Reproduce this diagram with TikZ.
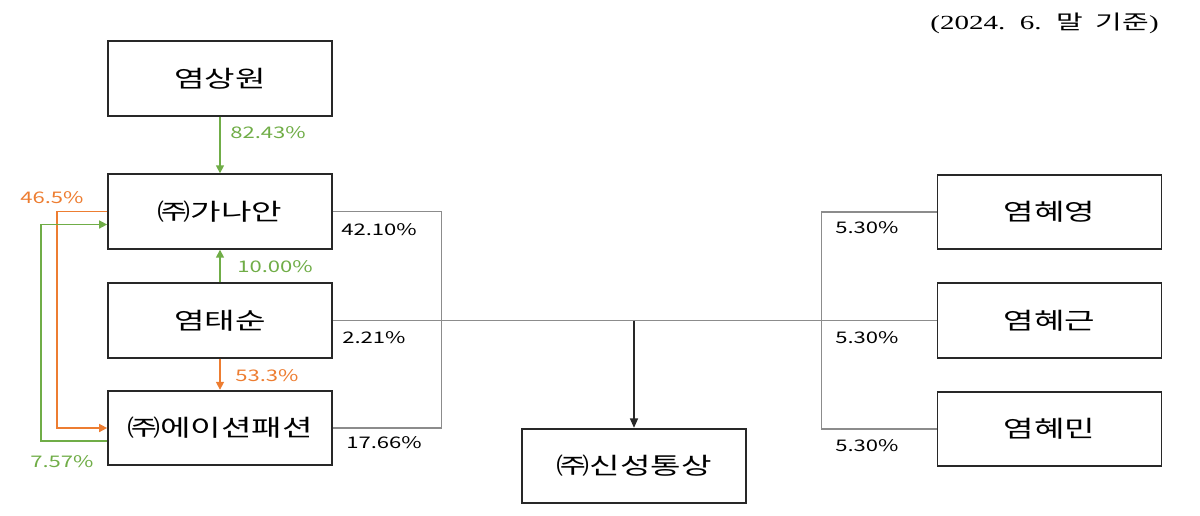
\documentclass[tikz,border=0pt]{standalone}
\usepackage{fontspec}
\usepackage{graphicx}
\setmainfont{Noto Sans CJK KR}
\newfontfamily\datefont{Liberation Serif}
\usetikzlibrary{arrows.meta,calc}
\definecolor{stakegreen}{RGB}{112,173,71}
\definecolor{stakeorange}{RGB}{237,125,49}
\definecolor{linkgray}{RGB}{140,140,140}
\definecolor{boxline}{RGB}{40,40,40}
\newcommand{\boxtxt}[1]{\scalebox{1.42}[1]{#1}}
\newcommand{\pcttxt}[1]{\scalebox{1.38}[1]{#1}}
\begin{document}
\begin{tikzpicture}[x=0.75pt, y=-0.75pt,
        entity/.style={draw=boxline, line width=1.3pt, minimum width=168pt, minimum height=56pt, inner sep=0pt, font=\fontsize{17.5}{20}\selectfont},
        pct/.style={anchor=west, inner sep=0pt, font=\fontsize{12}{14}\selectfont},
        holdg/.style={stakegreen, line width=1.2pt, -{Triangle[length=6pt, width=6pt]}},
        holdo/.style={stakeorange, line width=1.2pt, -{Triangle[length=6pt, width=6pt]}},
        link/.style={linkgray, line width=0.9pt}]
        \useasboundingbox (0, 0) rectangle (1200, 515);
        % boxes
        \node[entity] (sangwon) at (220, 78.5) {\boxtxt{염상원}};
        \node[entity] (ganaan) at (220, 211.5) {\boxtxt{㈜가나안}};
        \node[entity] (taesun) at (220, 320.5) {\boxtxt{염태순}};
        \node[entity] (fashion) at (220, 428) {\boxtxt{㈜에이션패션}};
        \node[entity] (sinsung) at (634, 466) {\boxtxt{㈜신성통상}};
        \node[entity] (hyeyoung) at (1049.5, 212) {\boxtxt{염혜영}};
        \node[entity] (hyegeun) at (1049.5, 320.5) {\boxtxt{염혜근}};
        \node[entity] (hyemin) at (1049.5, 429) {\boxtxt{염혜민}};
        \node[anchor=east, inner sep=0pt, font=\fontsize{15}{18}\selectfont] (basedate) at (1159, 23)
            {\scalebox{1.45}[1]{\datefont(2024.\ \ 6.\ \ \rmfamily 말\ \ 기준\datefont)}};
        % gray links to 신성통상
        \draw[link] (ganaan.east) -- ++(109, 0) |- (fashion.east);
        \draw[link] (hyeyoung.west) -- ++(-115, 0) |- (hyemin.west);
        \draw[link] (taesun.east) -- (hyegeun.west);
        \draw[boxline, line width=0.9pt, -{Triangle[length=7pt, width=6pt]}] (sinsung.north |- taesun.east) -- (sinsung.north);
        % coloured holdings
        \draw[holdg] (sangwon.south) -- (ganaan.north);
        \draw[holdg] (taesun.north) -- (ganaan.south);
        \draw[holdo] (taesun.south) -- (fashion.north);
        \draw[holdo] (ganaan.west) -- ++(-50, 0) |- (fashion.west);
        \draw[holdg] ($(fashion.west)+(0, 13)$) -- ++(-66, 0) |- ($(ganaan.west)+(0, 13)$);
        % labels
        \node[pct, text=stakegreen] at (230, 133) {\pcttxt{82.43\%}};
        \node[pct, text=stakegreen] at (237, 267) {\pcttxt{10.00\%}};
        \node[pct, text=stakeorange] at (235, 376) {\pcttxt{53.3\%}};
        \node[pct, text=stakeorange] at (20, 198) {\pcttxt{46.5\%}};
        \node[pct, text=stakegreen] at (30, 462) {\pcttxt{7.57\%}};
        \node[pct] at (341, 230) {\pcttxt{42.10\%}};
        \node[pct] at (342, 338) {\pcttxt{2.21\%}};
        \node[pct] at (346, 443) {\pcttxt{17.66\%}};
        \node[pct] at (835, 228) {\pcttxt{5.30\%}};
        \node[pct] at (835, 338) {\pcttxt{5.30\%}};
        \node[pct] at (835, 446) {\pcttxt{5.30\%}};
    \end{tikzpicture}
\end{document}
